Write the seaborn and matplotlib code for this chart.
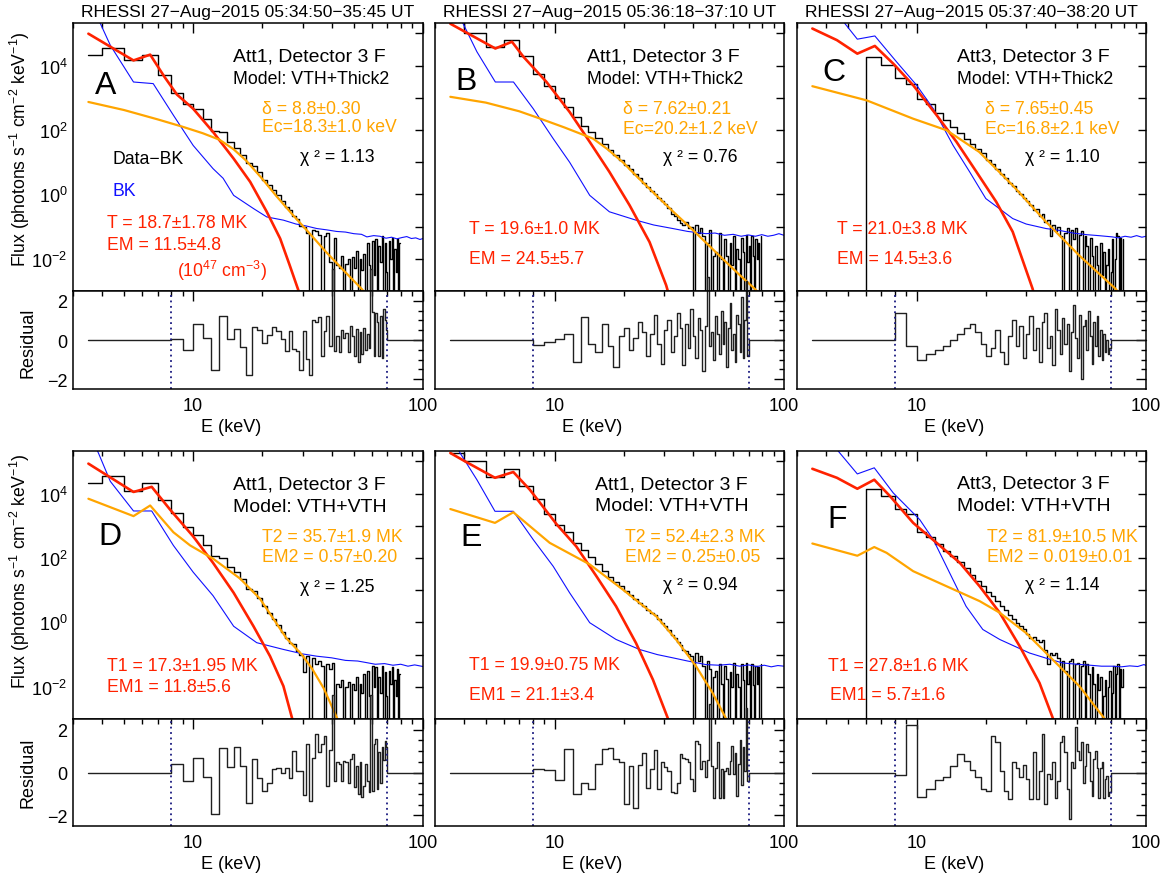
import numpy as np
import pandas as pd
import matplotlib
matplotlib.use("Agg")
import matplotlib.pyplot as plt
import seaborn as sns
from matplotlib.ticker import FixedLocator, FixedFormatter, NullFormatter, NullLocator, FuncFormatter

# ---------------- data ----------------
energy = np.arange(3.5, 80.0, 1.0)        # 1-keV bins (centres) 3-80 keV
energy_res = np.arange(3.5, 100.0, 1.0)   # residual bins 3-100 keV
fit_range = [8.0, 70.0]

# log10 flux of Data-BK per bin (-5 = negative, off scale)
data_A = [4.34, 4.56, 4.16, 4.34, 3.70, 3.15, 2.82, 2.65, 2.33, 1.98,
          1.93, 1.63, 1.45, 1.23, 0.98, 0.88, 0.68, 0.45, 0.30, 0.14,
          -0.03, -0.20, -0.38, -0.47, -0.66, -0.75, -0.98, -1.00, -1.20, -5,
          -1.1, -1.15, -1.25, -5, -1.3, -1.2, -2.1, -5, -1.35, -2.2,
          -2.3, -1.9, -5, -2.15, -2.0, -5, -1.95, -2.3, -1.75, -5,
          -2.0, -2.35, -1.85, -5, -1.5, -2.2, -5, -1.45, -2.5, -1.4,
          -5, -1.6, -2.1, -1.3, -5, -1.5, -2.4, -5, -1.45, -2.0,
          -1.35, -5, -1.7, -2.4, -1.4, -5, -1.5]
data_B = [5.6, 5.0, 4.57, 4.78, 4.29, 3.74, 3.36, 3.0, 2.72, 2.4,
          2.12, 1.95, 1.75, 1.57, 1.38, 1.22, 1.08, 0.9, 0.78, 0.63,
          0.5, 0.36, 0.23, 0.12, 0.0, -0.1, -0.2, -0.3, -0.42, -0.62,
          -0.68, -0.8, -0.88, -0.95, -0.85, -1.05, -1.0, -5, -0.95, -1.2,
          -1.05, -1.3, -5, -1.5, -1.1, -5, -1.9, -1.8, -5, -1.2,
          -2.0, -5, -1.4, -1.9, -5, -1.5, -2.2, -1.3, -5, -1.7,
          -2.0, -5, -1.35, -1.8, -5, -1.25, -2.1, -1.6, -5, -1.3,
          -1.9, -5, -1.4, -2.0, -1.5, -5, -1.3]
data_C = [-5, -5, -5, 4.27, 4.01, 3.61, 3.42, 2.95, 2.8, 2.52,
          2.3, 2.08, 1.9, 1.72, 1.55, 1.4, 1.27, 1.08, 0.93, 0.8,
          0.62, 0.52, 0.36, 0.25, 0.12, 0.02, -0.1, -0.2, -0.32, -0.5,
          -0.45, -0.68, -0.6, -0.85, -0.8, -1.3, -0.95, -1.15, -1.0, -1.3,
          -5, -1.2, -1.05, -5, -1.1, -1.4, -1.05, -5, -1.25, -1.15,
          -5, -1.3, -1.6, -5, -1.35, -1.9, -5, -1.6, -2.2, -5,
          -1.5, -2.5, -1.8, -5, -2.2, -1.7, -5, -2.4, -1.4, -5,
          -2.0, -1.2, -1.3, -5, -1.35, -5, -1.4]
data_D = [4.33, 4.56, 4.07, 4.33, 3.8, 3.4, 2.97, 2.7, 2.39, 2.05,
          1.99, 1.72, 1.56, 1.35, 1.05, 0.97, 0.76, 0.5, 0.3, 0.1,
          -0.08, -0.31, -0.48, -0.65, -0.68, -0.88, -1.0, -1.55, -1.05, -5,
          -1.1, -1.3, -1.2, -1.35, -5, -1.3, -1.45, -1.25, -5, -1.9,
          -2.0, -1.8, -5, -2.0, -1.85, -5, -1.9, -2.1, -1.7, -5,
          -1.9, -2.2, -1.6, -5, -1.5, -2.3, -5, -1.35, -2.0, -1.4,
          -5, -1.7, -2.2, -1.35, -5, -1.55, -2.3, -5, -1.5, -1.9,
          -1.4, -5, -1.8, -2.3, -1.45, -5, -1.6]
data_E = [5.26, 5.0, 4.52, 4.75, 4.25, 3.82, 3.37, 3.02, 2.8, 2.47,
          2.25, 2.02, 1.8, 1.6, 1.42, 1.26, 1.12, 0.97, 0.86, 0.73,
          0.6, 0.5, 0.4, 0.3, 0.22, 0.1, -0.03, -0.12, -0.25, -0.38,
          -0.48, -0.6, -0.7, -0.85, -0.9, -0.98, -1.05, -5, -0.95, -1.2,
          -1.05, -1.35, -5, -1.2, -1.45, -5, -1.7, -1.5, -5, -1.3,
          -1.9, -5, -1.35, -1.75, -5, -1.55, -2.0, -1.25, -5, -1.6,
          -2.0, -5, -1.3, -1.8, -5, -1.25, -1.9, -1.5, -5, -1.3,
          -1.95, -5, -1.35, -1.9, -1.4, -5, -1.3]
data_F = [-5, -5, -5, 4.15, 3.92, 3.53, 3.38, 2.8, 2.65, 2.42,
          2.22, 2.05, 1.87, 1.68, 1.48, 1.3, 1.12, 0.95, 0.82, 0.66,
          0.52, 0.38, 0.22, 0.12, -0.02, -0.12, -0.2, -0.35, -0.5, -0.45,
          -0.55, -0.6, -0.55, -0.85, -1.3, -0.95, -1.0, -0.95, -1.1, -5,
          -1.2, -1.5, -5, -1.2, -1.15, -5, -1.3, -1.25, -5, -1.35,
          -1.2, -5, -1.3, -1.6, -5, -1.4, -1.9, -5, -1.6, -2.1,
          -1.7, -5, -2.3, -1.8, -5, -2.0, -1.5, -5, -2.2, -1.35,
          -5, -1.6, -1.3, -5, -1.45, -2.0, -1.45]

# background (BK) spectra: energies and log10 flux
bk_E_A = [3.5, 3.95, 4.36, 5.5, 6.7, 8.2, 10, 12.2, 13.5, 15, 18.3, 20.9, 24.7, 28, 31, 34.5, 38, 42, 46,
          50, 54, 57, 61, 65, 69, 73, 77, 81, 85, 89, 93, 97, 100]
bk_F_A = [5.9, 5.3, 4.63, 3.49, 3.44, 2.46, 1.52, 0.8, 0.5, -0.03, -0.44, -0.7, -0.8, -0.92, -0.98, -1.06,
          -1.1, -1.15, -1.17, -1.22, -1.24, -1.32, -1.28, -1.3, -1.36, -1.33, -1.38, -1.34, -1.31, -1.37,
          -1.35, -1.4, -1.37]
bk_E_B = [3.5, 3.98, 4.57, 5.5, 6.6, 8.05, 9.84, 11.6, 14.2, 17.3, 22.6, 27, 32.7, 38, 45.6, 50, 55, 60,
          65, 70, 75, 80, 85, 90, 95, 100]
bk_F_B = [5.9, 5.3, 4.43, 3.49, 3.49, 2.66, 1.73, 1.0, -0.03, -0.54, -0.8, -0.95, -1.06, -1.15, -1.22,
          -1.2, -1.27, -1.24, -1.3, -1.26, -1.3, -1.25, -1.3, -1.27, -1.22, -1.27]
bk_E_C = [4.5, 4.86, 5.5, 6.56, 8.17, 9.98, 11.8, 14.4, 17, 20, 26.2, 30, 36.6, 42, 48, 55, 62, 71.3,
          76, 81, 86, 91, 96, 100]
bk_F_C = [5.8, 5.3, 4.82, 4.92, 4.11, 3.39, 2.66, 1.52, 0.70, -0.13, -0.75, -0.92, -1.06, -1.12, -1.2,
          -1.25, -1.28, -1.32, -1.35, -1.3, -1.33, -1.28, -1.33, -1.3]
bk_E_D = [3.5, 3.87, 4.36, 5.5, 6.6, 8.2, 10, 12.2, 15, 18.9, 24.7, 30, 34.5, 40, 46, 52, 56.9, 62, 68,
          74, 80, 86, 92, 100]
bk_F_D = [5.9, 5.26, 4.38, 3.46, 3.46, 2.39, 1.56, 0.83, -0.12, -0.63, -0.84, -0.98, -1.05, -1.1, -1.18,
          -1.2, -1.25, -1.3, -1.28, -1.33, -1.3, -1.36, -1.32, -1.37]
bk_E_E = [3.5, 3.86, 4.57, 5.48, 6.59, 8.05, 9.84, 11.6, 14.2, 18.5, 23.4, 28, 32.7, 38, 45.6, 52, 58,
          64, 70, 76, 82, 88, 94, 100]
bk_F_E = [5.8, 5.26, 4.43, 3.45, 3.45, 2.57, 1.74, 0.92, -0.01, -0.53, -0.84, -1.0, -1.10, -1.2, -1.31,
          -1.33, -1.3, -1.36, -1.32, -1.37, -1.33, -1.38, -1.34, -1.36]
bk_E_F = [4.2, 4.55, 5.5, 6.52, 7.89, 10.3, 11.8, 13.9, 16.4, 19.4, 23, 31, 37, 43.3, 50, 57, 64, 71.3,
          78, 85, 92, 98, 100]
bk_F_F = [5.8, 5.31, 4.61, 4.80, 4.02, 3.19, 2.57, 1.54, 0.50, -0.22, -0.53, -0.95, -1.12, -1.26, -1.3,
          -1.33, -1.36, -1.36, -1.38, -1.35, -1.37, -1.31, -1.34]

# thermal (red) model: energies and log10 flux
th_E_A = [3.5, 5.5, 6.5, 7.5, 8.5, 10, 12.2, 15, 17.7, 20.9, 23.9, 26.3, 28.7, 30]
th_F_A = [4.99, 4.16, 4.34, 3.65, 3.10, 2.66, 1.94, 1.11, 0.39, -0.54, -1.37, -2.2, -2.98, -3.4]
th_E_B = [3.5, 5.5, 6.5, 7.3, 9.2, 11.6, 14.2, 17.3, 21.2, 25.9, 30.6, 32]
th_F_B = [5.30, 4.53, 4.74, 4.27, 3.49, 2.56, 1.63, 0.70, -0.34, -1.48, -2.82, -3.3]
th_E_C = [3.5, 4.48, 5.5, 6.56, 7.89, 9.64, 12.2, 14.9, 18.2, 22.2, 26.2, 32, 33]
th_F_C = [5.15, 4.79, 4.37, 4.61, 4.06, 3.39, 2.46, 1.63, 0.70, -0.23, -1.16, -2.93, -3.3]
th_E_D = [3.5, 5.5, 6.6, 7.94, 10, 12.2, 15, 18.3, 21.6, 24.7, 26.9, 28]
th_F_D = [4.93, 4.05, 4.21, 3.5, 2.67, 1.85, 0.92, -0.12, -1.05, -1.98, -2.96, -3.4]
th_E_E = [3.5, 4.06, 5.48, 6.59, 7.78, 10.2, 12.4, 15.2, 18.5, 22.6, 26.8, 31.1, 32]
th_F_E = [5.26, 5.0, 4.49, 4.67, 4.12, 3.04, 2.36, 1.43, 0.50, -0.64, -1.78, -2.97, -3.2]
th_E_F = [3.5, 4.48, 5.5, 6.52, 7.64, 9.64, 12.2, 15.4, 18.8, 23, 28.1, 34.3, 39.2, 40.5]
th_F_F = [4.77, 4.49, 4.15, 4.43, 3.92, 3.09, 2.47, 1.85, 1.12, 0.30, -0.74, -1.88, -2.97, -3.3]

# second component (orange): thick target (A-C) / second VTH (D-F)
nt_E_A = [3.5, 5, 7, 9, 11, 13, 15, 17, 20, 23, 27, 32, 38, 45, 54, 58]
nt_F_A = [2.87, 2.62, 2.33, 2.1, 1.9, 1.7, 1.4, 1.05, 0.48, -0.05, -0.62, -1.2, -1.8, -2.35, -2.93, -3.2]
nt_E_B = [3.5, 5, 7, 8.5, 11, 14.7, 17, 19.8, 23, 27.7, 33, 38.6, 46, 54, 64, 75, 80]
nt_F_B = [3.03, 2.85, 2.58, 2.37, 2.08, 1.73, 1.4, 1.0, 0.53, -0.03, -0.55, -1.0, -1.52, -2.0, -2.5, -2.95, -3.15]
nt_E_C = [3.5, 6.04, 9.64, 13.5, 18.7, 26.2, 36.6, 51, 73.6, 78]
nt_F_C = [3.36, 2.92, 2.35, 1.99, 1.32, 0.28, -0.85, -1.89, -2.93, -3.15]
nt_E_D = [3.5, 5.5, 6.5, 8.2, 9.7, 12.2, 16, 19.5, 25.5, 29.7, 33, 37, 42.2, 44]
nt_F_D = [3.84, 3.30, 3.63, 2.80, 2.39, 1.98, 1.36, 0.74, -0.5, -1.0, -1.45, -2.05, -2.96, -3.3]
nt_E_E = [3.5, 5.48, 6.59, 9.5, 14.2, 19.8, 27.7, 33.8, 41.3, 48.8, 55.7, 57.5]
nt_F_E = [3.52, 3.09, 3.42, 2.47, 1.80, 1.02, 0.19, -0.53, -1.36, -2.19, -2.97, -3.3]
nt_E_F = [3.5, 5.5, 6.52, 7.38, 9.64, 13.5, 18.8, 23, 30, 39.2, 51.2, 65.6, 68]
nt_F_F = [2.45, 2.07, 2.34, 2.16, 1.59, 1.12, 0.66, 0.30, -0.33, -1.16, -1.98, -2.97, -3.2]

# normalised residuals in the fit range (bins 8.5 ... 69.5 keV)
res_A = [0.07, -0.52, 0.82, 0.12, -1.55, 1.23, 0.03, 0.58, -0.38, -1.77, 0.65, 0.53, -0.13, 0.23, 0.65, 0.48,
         0.07, -0.55, 0.48, -0.47, -0.55, -1.55, 0.45, -0.97, -1.77, 1.03, 0.9, 1.15, -0.8, 0.45, 1.2, -0.3,
         3.6, -0.55, 0.2, -0.63, 0.53, 0.1, 0.35, -0.6, 0.7, 0.2, -0.8, 0.55, -1.13, 0.4, -0.7, 0.6, -0.5,
         0.3, -0.4, 3.6, 1.45, -0.8, 1.37, 0.9, -0.8, 1.2, -0.9, 1.6, 1.03, 0.5]
res_B = [-0.25, -0.1, 0.05, 0.3, -1.1, 1.15, -0.2, -0.6, 0.8, -0.3, -1.4, 0.2, 0.6, -0.5, 0.1, 0.9,
         0.4, -0.8, 0.3, 1.3, -0.2, -1.2, 0.5, 1.0, -0.6, 0.2, 1.4, 0.6, -1.3, 0.8, -0.4, 1.6, 0.2, -0.9,
         1.1, 0.5, -1.6, 0.7, 3.2, -0.3, 0.4, -1.0, 1.2, 0.3, -0.7, 1.5, -0.2, 0.9, -1.4, 0.6, 1.9, -0.5,
         0.3, -1.1, 1.3, 0.8, -0.6, 2.2, -0.9, 1.0, 3.0, -0.8]
res_C = [1.4, -0.3, -1.0, -0.7, -0.5, -0.3, 0.0, 0.3, 0.6, 0.8, 0.4, -0.2, -0.8, -0.4, 0.5, -0.6,
         -1.2, 0.2, 1.0, -0.3, 0.7, -0.9, 0.3, 1.2, -0.5, 0.6, -1.1, 0.9, 1.4, -0.4, 0.2, -1.3, 1.6, 0.5,
         -0.7, 1.1, -0.2, 0.8, -1.6, 0.4, 1.8, 0.1, -0.9, 1.3, -2.0, 0.7, 1.0, -0.5, 1.5, 0.2, -1.2, 0.9,
         -0.3, 1.2, -0.8, 0.5, -1.0, 0.3, -0.6, 0.0, -0.7, -0.4]
res_D = [0.39, -0.42, 0.69, -0.22, -1.95, 1.14, 0.28, 1.17, 0.31, -1.41, 0.63, -0.27, -0.86, -0.5, 0.16,
         0.2, -0.03, 0.23, -0.28, 1.02, 0.09, 0.08, -1.05, 1.33, -1.33, 0.67, 1.8, 0.97, 1.33, 1.72, -0.63,
         1.06, 3.6, -0.39, 0.47, 0.39, -0.39, 0.55, 0.47, -0.47, 0.63, 0.86, -0.7, 0.3, -1.0, 0.5, -1.14,
         -0.63, 0.4, -0.39, -0.9, 3.6, -0.86, 1.33, 1.56, -0.78, 0.97, -0.5, 1.17, 0.6, 1.48, 1.2]
res_E = [0.16, 0.12, -0.36, 1.09, -1.02, -0.5, -0.78, 0.39, 1.09, 1.14, 0.63, 0.47, -1.48, 0.31, -1.64,
         0.34, 0.91, -0.73, 0.16, 1.06, -0.78, 0.5, 0.27, 0.08, -0.91, -0.94, -0.47, 0.86, 0.7, 0.63, 0.47,
         -0.3, -0.86, 1.48, 1.33, 0.16, 0.55, -0.2, 0.6, 3.2, 0.31, -1.17, 0.23, 1.41, -1.17, 0.16, -1.17,
         0.08, 0.23, -0.08, 0.55, 1.25, -0.08, 0.9, -1.1, 0.4, 1.5, -0.6, 1.2, 0.08, 3.0, -0.4]
res_F = [-0.11, 2.22, -1.13, -0.78, -0.36, -0.23, 0.31, 0.86, 0.55, 0.11, -0.23, -0.75, -0.86, 1.72, 1.44,
         0.08, -0.86, -1.22, 0.47, 0.23, -0.23, 0.34, -0.31, -1.25, 0.94, -1.25, 0.08, 1.8, -1.48, -0.08,
         -0.31, 0.47, -1.17, -0.39, 1.41, 1.72, 0.94, -0.78, -2.19, 0.47, 0.2, 2.11, 1.02, 0.6, 1.41, -0.47,
         0.3, 1.33, 0.94, -0.4, -1.09, 0.63, 1.0, 0.23, -1.17, 0.2, 0.47, -1.17, -0.3, -0.16, -1.09, -0.9]

titles = ["RHESSI 27\u2212Aug\u22122015 05:34:50\u221235:45 UT",
          "RHESSI 27\u2212Aug\u22122015 05:36:18\u221237:10 UT",
          "RHESSI 27\u2212Aug\u22122015 05:37:40\u221238:20 UT"]

# ---------------- style ----------------
sns.set_theme(style="white")
plt.rcParams["font.family"] = ["Liberation Sans", "DejaVu Sans"]
plt.rcParams["mathtext.fontset"] = "custom"
plt.rcParams["mathtext.rm"] = "Liberation Sans"
plt.rcParams["mathtext.it"] = "Liberation Sans:italic"
plt.rcParams["mathtext.bf"] = "Liberation Sans:bold"
plt.rcParams["axes.edgecolor"] = "black"
plt.rcParams["text.color"] = "black"
plt.rcParams["xtick.color"] = "black"
plt.rcParams["ytick.color"] = "black"
plt.rcParams["axes.linewidth"] = 1.1

RED = "#ff2200"
ORANGE = "#ffa500"
BLUE = "#1010ff"
NAVY = "#1a1a80"

W, H = 1167, 878
fig = plt.figure(figsize=(W / 100, H / 100), dpi=100)


def rect(x0, y0, x1, y1):
    return [x0 / W, 1 - y1 / H, (x1 - x0) / W, (y1 - y0) / H]


def ftxt(x, y, s, color="black", size=12.7, ha="left", **kw):
    fig.text(x / W, 1 - y / H, s, color=color, fontsize=size, ha=ha, va="center", **kw)


cols = [(73, 423), (435, 784), (797, 1146)]
rows = [(24, 292, 390), (452, 720, 827)]

panels = [
    dict(data=data_A, bkE=bk_E_A, bkF=bk_F_A, thE=th_E_A, thF=th_F_A, ntE=nt_E_A, ntF=nt_F_A, res=res_A),
    dict(data=data_B, bkE=bk_E_B, bkF=bk_F_B, thE=th_E_B, thF=th_F_B, ntE=nt_E_B, ntF=nt_F_B, res=res_B),
    dict(data=data_C, bkE=bk_E_C, bkF=bk_F_C, thE=th_E_C, thF=th_F_C, ntE=nt_E_C, ntF=nt_F_C, res=res_C),
    dict(data=data_D, bkE=bk_E_D, bkF=bk_F_D, thE=th_E_D, thF=th_F_D, ntE=nt_E_D, ntF=nt_F_D, res=res_D),
    dict(data=data_E, bkE=bk_E_E, bkF=bk_F_E, thE=th_E_E, thF=th_F_E, ntE=nt_E_E, ntF=nt_F_E, res=res_E),
    dict(data=data_F, bkE=bk_E_F, bkF=bk_F_F, thE=th_E_F, thF=th_F_F, ntE=nt_E_F, ntF=nt_F_F, res=res_F),
]

minor_x = [3, 4, 5, 6, 7, 8, 9, 20, 30, 40, 50, 60, 70, 80, 90]


def logfmt(v, pos):
    k = int(round(np.log10(v)))
    return r"$10^{%d}$" % k if k % 2 == 0 else ""


for i, p in enumerate(panels):
    r, c = divmod(i, 3)
    x0, x1 = cols[c]
    top, mid, bot = rows[r]
    ax = fig.add_axes(rect(x0, top, x1, mid))
    axr = fig.add_axes(rect(x0, mid, x1, bot))

    ax.set_xscale("log")
    ax.set_yscale("log")
    axr.set_xscale("log")

    df = pd.DataFrame({"E": energy, "F": 10.0 ** np.array(p["data"])})
    sns.lineplot(data=df, x="E", y="F", ax=ax, color="black", lw=1.0,
                 drawstyle="steps-mid", estimator=None, sort=False)
    sns.lineplot(x=p["bkE"], y=10.0 ** np.array(p["bkF"]), ax=ax, color=BLUE, lw=0.8,
                 estimator=None, sort=False)
    sns.lineplot(x=p["thE"], y=10.0 ** np.array(p["thF"]), ax=ax, color=RED, lw=1.9,
                 estimator=None, sort=False)
    sns.lineplot(x=p["ntE"], y=10.0 ** np.array(p["ntF"]), ax=ax, color=ORANGE, lw=1.6,
                 estimator=None, sort=False)

    ax.set_xlim(3, 100)
    ax.set_ylim(1.0e-3, 2.1e5)
    ax.yaxis.set_major_locator(FixedLocator([10.0 ** k for k in range(-3, 6)]))
    ax.yaxis.set_major_formatter(FuncFormatter(logfmt) if c == 0 else NullFormatter())
    ax.yaxis.set_minor_locator(NullLocator())
    ax.xaxis.set_major_locator(FixedLocator([10, 100]))
    ax.xaxis.set_minor_locator(FixedLocator(minor_x))
    ax.xaxis.set_major_formatter(NullFormatter())
    ax.xaxis.set_minor_formatter(NullFormatter())
    ax.tick_params(axis="both", which="both", direction="in", top=True, right=True,
                   labelsize=13, width=1.0, pad=4)
    ax.tick_params(axis="y", which="major", length=6)
    ax.tick_params(axis="x", which="major", length=7)
    ax.tick_params(axis="x", which="minor", length=3.5)
    ax.set_xlabel("")
    ax.set_ylabel("")

    # residuals
    res_full = np.concatenate([np.zeros(5), np.array(p["res"]), np.zeros(30)])
    sns.lineplot(x=energy_res, y=res_full, ax=axr, color="#202020", lw=1.0,
                 drawstyle="steps-mid", estimator=None, sort=False)
    axr.lines[-1].set_clip_on(False)
    for fe in fit_range:
        axr.axvline(fe, color=NAVY, ls=(0, (1, 2)), lw=1.3)
    axr.set_xlim(3, 100)
    axr.set_ylim(-2.5, 2.5)
    axr.yaxis.set_major_locator(FixedLocator([-2, 0, 2]))
    axr.yaxis.set_minor_locator(FixedLocator([-1.5, -1, -0.5, 0.5, 1, 1.5]))
    if c == 0:
        axr.yaxis.set_major_formatter(FixedFormatter(["\u22122", "0", "2"]))
    else:
        axr.yaxis.set_major_formatter(NullFormatter())
    axr.xaxis.set_major_locator(FixedLocator([10, 100]))
    axr.xaxis.set_major_formatter(FixedFormatter(["10", "100"]))
    axr.xaxis.set_minor_locator(FixedLocator(minor_x))
    axr.xaxis.set_minor_formatter(NullFormatter())
    axr.tick_params(axis="both", which="both", direction="in", top=True, right=True,
                    labelsize=13, width=1.0)
    axr.tick_params(axis="y", which="major", length=7, pad=4)
    axr.tick_params(axis="y", which="minor", length=3.5)
    axr.tick_params(axis="x", which="major", length=7, pad=6)
    axr.tick_params(axis="x", which="minor", length=3.5)
    axr.set_xlabel("")
    axr.set_ylabel("")

    xc = (x0 + x1) / 2
    ftxt(xc - 17, 428 if r == 0 else 865, "E (keV)", size=13, ha="center")
    if r == 0:
        ftxt(xc, 12, titles[c], size=12.5, ha="center")

# axis labels
for yc in (149, 571):
    ftxt(20, yc, r"Flux (photons s$^{-1}$ cm$^{-2}$ keV$^{-1}$)", size=12.7, ha="center", rotation=90)
for yc in (343, 773):
    ftxt(28, yc, "Residual", size=13, ha="center", rotation=90)

# ---------------- annotations ----------------
ftxt(233, 57, "Att1, Detector 3 F", size=14)
ftxt(233, 80, "Model: VTH+Thick2", size=12.8)
ftxt(95, 86, "A", size=23)
ftxt(262, 110, "\u03b4 = 8.8\u00b10.30", ORANGE)
ftxt(262, 127, "Ec=18.3\u00b11.0 keV", ORANGE)
ftxt(300, 157, "\u03c7 \u00b2 = 1.13")
ftxt(113, 160, "Data\u2212BK")
ftxt(113, 191, "BK", BLUE)
ftxt(107, 223, "T = 18.7\u00b11.78 MK", RED)
ftxt(107, 245, "EM = 11.5\u00b14.8", RED)
ftxt(177, 271, r"(10$^{47}$ cm$^{-3}$)", RED)

ftxt(587, 57, "Att1, Detector 3 F", size=14)
ftxt(587, 80, "Model: VTH+Thick2", size=12.8)
ftxt(455, 82, "B", size=23)
ftxt(623, 110, "\u03b4 = 7.62\u00b10.21", ORANGE)
ftxt(623, 129, "Ec=20.2\u00b11.2 keV", ORANGE)
ftxt(663, 157, "\u03c7 \u00b2 = 0.76")
ftxt(469, 230, "T = 19.6\u00b11.0 MK", RED)
ftxt(469, 259, "EM = 24.5\u00b15.7", RED)

ftxt(957, 57, "Att3, Detector 3 F", size=14)
ftxt(957, 80, "Model: VTH+Thick2", size=12.8)
ftxt(822, 73, "C", size=23)
ftxt(985, 110, "\u03b4 = 7.65\u00b10.45", ORANGE)
ftxt(985, 130, "Ec=16.8\u00b12.1 keV", ORANGE)
ftxt(1025, 157, "\u03c7 \u00b2 = 1.10")
ftxt(837, 230, "T = 21.0\u00b13.8 MK", RED)
ftxt(837, 259, "EM = 14.5\u00b13.6", RED)

ftxt(233, 485, "Att1, Detector 3 F", size=14)
ftxt(233, 508, "Model: VTH+VTH", size=14)
ftxt(98, 537, "D", size=23)
ftxt(262, 538, "T2 = 35.7\u00b11.9 MK", ORANGE)
ftxt(262, 558, "EM2 = 0.57\u00b10.20", ORANGE)
ftxt(300, 587, "\u03c7 \u00b2 = 1.25")
ftxt(107, 667, "T1 = 17.3\u00b11.95 MK", RED)
ftxt(107, 687, "EM1 = 11.8\u00b15.6", RED)

ftxt(595, 485, "Att1, Detector 3 F", size=14)
ftxt(595, 507, "Model: VTH+VTH", size=14)
ftxt(460, 538, "E", size=23)
ftxt(625, 538, "T2 = 52.4\u00b12.3 MK", ORANGE)
ftxt(625, 558, "EM2 = 0.25\u00b10.05", ORANGE)
ftxt(663, 586, "\u03c7 \u00b2 = 0.94")
ftxt(469, 666, "T1 = 19.9\u00b10.75 MK", RED)
ftxt(469, 696, "EM1 = 21.1\u00b13.4", RED)

ftxt(957, 484, "Att3, Detector 3 F", size=14)
ftxt(957, 507, "Model: VTH+VTH", size=14)
ftxt(827, 520, "F", size=23)
ftxt(987, 538, "T2 = 81.9\u00b110.5 MK", ORANGE)
ftxt(987, 558, "EM2 = 0.019\u00b10.01", ORANGE)
ftxt(1025, 586, "\u03c7 \u00b2 = 1.14")
ftxt(828, 667, "T1 = 27.8\u00b11.6 MK", RED)
ftxt(830, 696, "EM1 = 5.7\u00b11.6", RED)

fig.savefig("out.png", dpi=100)
